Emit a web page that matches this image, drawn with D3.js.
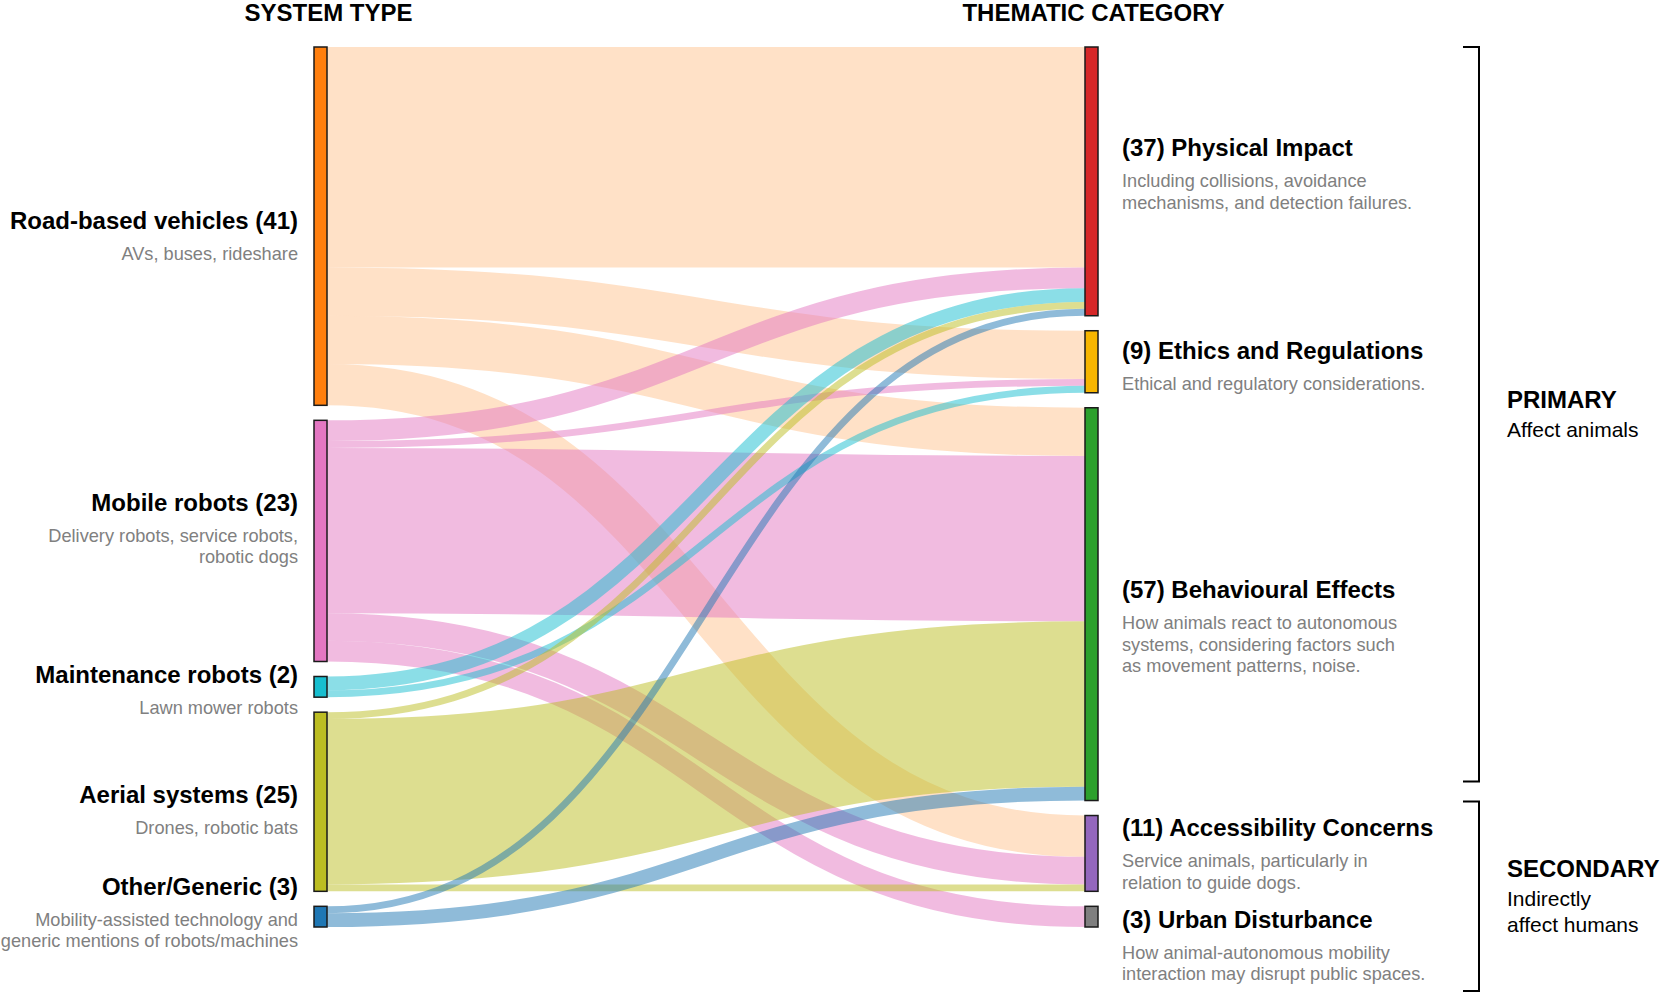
<!DOCTYPE html>
<html>
<head>
<meta charset="utf-8">
<script src="https://cdn.jsdelivr.net/npm/d3@7"></script>
<style>
  body { margin: 0; background: #fff; }
  svg { font-family: "Liberation Sans", Arial, Helvetica, sans-serif; }
</style>
</head>
<body>
<div id="chart"></div>
<script>
// ---- data ----
var systemTypes = ["Road-based vehicles", "Mobile robots", "Maintenance robots", "Aerial systems", "Other/Generic"];
var systemCounts = [41, 23, 2, 25, 3];
var systemNotes = [
    ["AVs, buses, rideshare"],
    ["Delivery robots, service robots,", "robotic dogs"],
    ["Lawn mower robots"],
    ["Drones, robotic bats"],
    ["Mobility-assisted technology and", "generic mentions of robots/machines"]
];

var categories = ["Physical Impact", "Ethics and Regulations", "Behavioural Effects", "Accessibility Concerns", "Urban Disturbance"];
var categoryCounts = [37, 9, 57, 11, 3];
var categoryNotes = [
    ["Including collisions, avoidance", "mechanisms, and detection failures."],
    ["Ethical and regulatory considerations."],
    ["How animals react to autonomous", "systems, considering factors such", "as movement patterns, noise."],
    ["Service animals, particularly in", "relation to guide dogs."],
    ["How animal-autonomous mobility", "interaction may disrupt public spaces."]
];

// flows[system][category]
var flows = [
    [32, 7, 7, 6, 0],
    [3, 1, 24, 4, 3],
    [2, 1, 0, 0, 0],
    [1, 0, 24, 1, 0],
    [1, 0, 2, 0, 0]
];

var groupNames = ["PRIMARY", "SECONDARY"];
var groupNotes = [["Affect animals"], ["Indirectly", "affect humans"]];
var groupFirst = [0, 3];
var groupLast = [2, 4];

// ---- styles / layout ----
var systemColors = ["#ff7f0e", "#e377c2", "#17becf", "#bcbd22", "#1f77b4"];
var linkOpacity = [0.23, 0.5, 0.5, 0.5, 0.5];
var categoryColors = ["#d62728", "#f7b500", "#2ca02c", "#9467bd", "#7f7f7f"];

var width = 1661,
    height = 993,
    yTop = 47,
    yBottom = 927,
    pad = 15,
    nodeW = 13;

// hand-placed nudges of the label blocks (title baseline vs node centre)
var leftTitleDy = [3, -30, -4, 1, -22];
var rightTitleDy = [-25, -3, -6, -17, 11];

var x = d3.scaleLinear().domain([0, 1]).range([314, 1085]);

var leftTotals = flows.map(function (row) { return d3.sum(row); });
var rightTotals = categories.map(function (c, j) { return d3.sum(flows, function (row) { return row[j]; }); });
var total = d3.sum(leftTotals);

var h = d3.scaleLinear()
    .domain([0, total])
    .range([0, yBottom - yTop - pad * (categories.length - 1)]);

function stack(totals, col) {
    var y = yTop;
    return totals.map(function (v, i) {
        var n = { index: i, col: col, value: v, y0: y, y1: y + h(v) };
        n.x0 = x(col);
        n.x1 = n.x0 + nodeW;
        y = n.y1 + pad;
        return n;
    });
}

var leftNodes = stack(leftTotals, 0);
var rightNodes = stack(rightTotals, 1);

var links = [];
var outOff = leftNodes.map(function (n) { return n.y0; });
var inOff = rightNodes.map(function (n) { return n.y0; });
// source side ordered by target, target side ordered by source
for (var i = 0; i < flows.length; i++) {
    for (var j = 0; j < categories.length; j++) {
        var v = flows[i][j];
        if (!v) continue;
        var w = h(v);
        links.push({ s: i, t: j, value: v, width: w, y0: outOff[i] + w / 2 });
        outOff[i] += w;
    }
}
for (var j2 = 0; j2 < categories.length; j2++) {
    links.filter(function (l) { return l.t === j2; })
        .sort(function (a, b) { return a.s - b.s; })
        .forEach(function (l) {
            l.y1 = inOff[j2] + l.width / 2;
            inOff[j2] += l.width;
        });
}

var svg = d3.select("#chart")
    .append("svg")
    .attr("width", width)
    .attr("height", height);

var linkPath = d3.linkHorizontal()
    .source(function (d) { return [leftNodes[d.s].x1, d.y0]; })
    .target(function (d) { return [rightNodes[d.t].x0, d.y1]; });

svg.append("g")
    .attr("fill", "none")
    .selectAll("path")
    .data(links)
    .enter().append("path")
    .attr("d", linkPath)
    .attr("stroke", function (d) { return systemColors[d.s]; })
    .attr("stroke-opacity", function (d) { return linkOpacity[d.s]; })
    .attr("stroke-width", function (d) { return d.width; });

function drawNodes(nodes, colors) {
    svg.append("g")
        .selectAll("rect")
        .data(nodes)
        .enter().append("rect")
        .attr("x", function (d) { return d.x0; })
        .attr("y", function (d) { return d.y0; })
        .attr("width", nodeW)
        .attr("height", function (d) { return d.y1 - d.y0; })
        .attr("fill", function (d, i) { return colors[i]; })
        .attr("stroke", "#1a1a1a")
        .attr("stroke-width", 1.5);
}
drawNodes(leftNodes, systemColors);
drawNodes(rightNodes, categoryColors);

// column headers
svg.append("g")
    .selectAll("text")
    .data(["SYSTEM TYPE", "THEMATIC CATEGORY"])
    .enter().append("text")
    .attr("x", function (d, i) { return x(i) + nodeW / 2 + (i === 0 ? 8 : 2); })
    .attr("y", 21)
    .attr("text-anchor", "middle")
    .attr("font-size", 24)
    .attr("font-weight", "bold")
    .text(function (d) { return d; });

function drawLabels(nodes, titles, notes, dys, side) {
    var g = svg.append("g")
        .selectAll("g")
        .data(nodes)
        .enter().append("g")
        .attr("transform", function (d, i) {
            var tx = side === "left" ? d.x0 - 16 : d.x1 + 24;
            var ty = (d.y0 + d.y1) / 2 + dys[i];
            return "translate(" + tx + "," + ty + ")";
        })
        .attr("text-anchor", side === "left" ? "end" : "start");

    g.append("text")
        .attr("font-size", 24)
        .attr("font-weight", "bold")
        .attr("fill", "#000")
        .text(function (d, i) { return titles[i]; });

    g.each(function (d, i) {
        d3.select(this).selectAll("text.note")
            .data(notes[i])
            .enter().append("text")
            .attr("class", "note")
            .attr("y", function (t, k) { return 31 + k * 21.5; })
            .attr("font-size", 18.2)
            .attr("fill", "#808080")
            .text(function (t) { return t; });
    });
}

drawLabels(leftNodes,
    systemTypes.map(function (s, i) { return s + " (" + systemCounts[i] + ")"; }),
    systemNotes, leftTitleDy, "left");
drawLabels(rightNodes,
    categories.map(function (c, i) { return "(" + categoryCounts[i] + ") " + c; }),
    categoryNotes, rightTitleDy, "right");

// group brackets on the right
var bx = 1479, tick = 16;
var spans = [
    [rightNodes[groupFirst[0]].y0, rightNodes[groupLast[0]].y1 - 19],
    [rightNodes[groupFirst[1]].y0 - 14, height - 2]
];

var bg = svg.append("g")
    .selectAll("g")
    .data(groupNames)
    .enter().append("g");

bg.append("path")
    .attr("fill", "none")
    .attr("stroke", "#000")
    .attr("stroke-width", 2)
    .attr("d", function (d, i) {
        var s = spans[i];
        return "M" + (bx - tick) + "," + s[0] + "H" + bx + "V" + s[1] + "H" + (bx - tick);
    });

bg.each(function (d, i) {
    var mid = (spans[i][0] + spans[i][1]) / 2;
    var base = mid - 6 - 13 * (groupNotes[i].length - 1);
    var g = d3.select(this);
    g.append("text")
        .attr("x", bx + 28)
        .attr("y", base)
        .attr("font-size", 24)
        .attr("font-weight", "bold")
        .text(d);
    g.selectAll("text.note")
        .data(groupNotes[i])
        .enter().append("text")
        .attr("class", "note")
        .attr("x", bx + 28)
        .attr("y", function (t, k) { return base + 29 + k * 26; })
        .attr("font-size", 21)
        .text(function (t) { return t; });
});
</script>
</body>
</html>
